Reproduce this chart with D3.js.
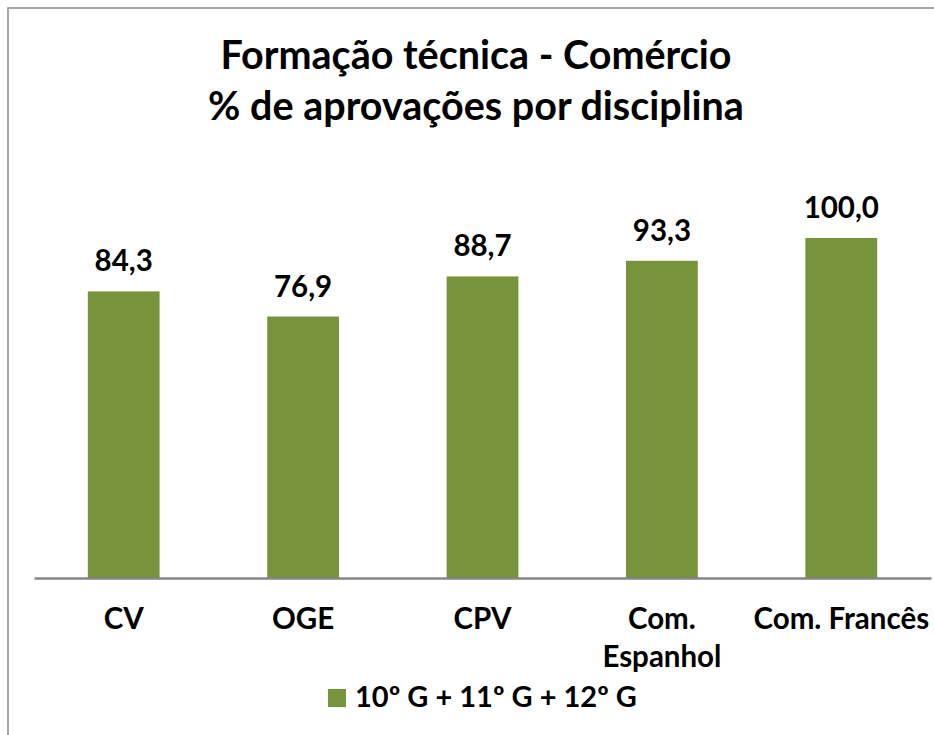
<!DOCTYPE html>
<html>
<head>
<meta charset="utf-8">
<script src="https://cdn.jsdelivr.net/npm/d3@7"></script>
<style>
  body { margin: 0; background: #fff; }
  svg text { font-family: Lato, "Open Sans", sans-serif; font-weight: bold; fill: #000; }
</style>
</head>
<body>
<div id="chart"></div>
<script>
// chart values
var categories = ["CV", "OGE", "CPV", "Com. Espanhol", "Com. Francês"];
var values = [84.3, 76.9, 88.7, 93.3, 100.0];
var seriesName = "10º G + 11º G + 12º G";
var titleLines = ["Formação técnica - Comércio", "% de aprovações por disciplina"];

var width = 934, height = 735;
var margin = {top: 238, right: 3, bottom: 157, left: 34};
var green = "#77933C";

var svg = d3.select("#chart").append("svg")
	.attr("width", width)
	.attr("height", height);

// chart border
svg.append("rect")
	.attr("x", 8).attr("y", 8)
	.attr("width", 944).attr("height", 760)
	.attr("fill", "none")
	.attr("stroke", "#8a8a8a")
	.attr("stroke-width", 1.5);

// title
svg.selectAll(".title")
	.data(titleLines).enter()
	.append("text")
	.attr("class", "title")
	.attr("x", 476)
	.attr("y", function(d, i) { return 69 + i * 51; })
	.attr("text-anchor", "middle")
	.attr("font-size", 39.5)
	.text(function(d) { return d; });

var plotW = width - margin.left - margin.right,
	plotH = height - margin.top - margin.bottom;

var g = svg.append("g")
	.attr("transform", "translate(" + margin.left + "," + margin.top + ")");

var x = d3.scaleBand().domain(categories).range([0, plotW]).paddingInner(0.6).paddingOuter(0.3);
var y = d3.scaleLinear().domain([0, 100]).range([plotH, 0]);

var fmt = d3.formatLocale({decimal: ",", thousands: ".", grouping: [3], currency: ["", ""]}).format(".1f");

// bars
g.selectAll(".bar")
	.data(values).enter()
	.append("rect")
	.attr("class", "bar")
	.attr("x", function(d, i) { return x(categories[i]); })
	.attr("y", function(d) { return y(d); })
	.attr("width", x.bandwidth())
	.attr("height", function(d) { return plotH - y(d); })
	.attr("fill", green);

// value labels
g.selectAll(".val")
	.data(values).enter()
	.append("text")
	.attr("class", "val")
	.attr("x", function(d, i) { return x(categories[i]) + x.bandwidth() / 2; })
	.attr("y", function(d) { return y(d) - 20; })
	.attr("text-anchor", "middle")
	.attr("font-size", 29.5)
	.text(function(d) { return fmt(d); });

// x axis
var xAxis = g.append("g")
	.attr("transform", "translate(0," + plotH + ")")
	.call(d3.axisBottom(x).tickSize(0).tickPadding(0));

xAxis.select(".domain").attr("stroke", "#868686").attr("stroke-width", 2.5);

xAxis.selectAll(".tick text").each(function(d) {
	var t = d3.select(this);
	t.text(null)
		.attr("font-size", 29.5)
		.attr("font-family", null)
		.attr("y", 0)
		.attr("dy", null);
	var lines = d === "Com. Espanhol" ? ["Com.", "Espanhol"] : [d];
	lines.forEach(function(l, i) {
		t.append("tspan").attr("x", 0).attr("y", 51 + i * 38).text(l);
	});
});

// legend
var legend = svg.append("g").attr("transform", "translate(328,689)");
legend.append("rect")
	.attr("width", 18).attr("height", 18)
	.attr("fill", green);
legend.append("text")
	.attr("x", 27).attr("y", 18)
	.attr("font-size", 29)
	.text(seriesName);
</script>
</body>
</html>
